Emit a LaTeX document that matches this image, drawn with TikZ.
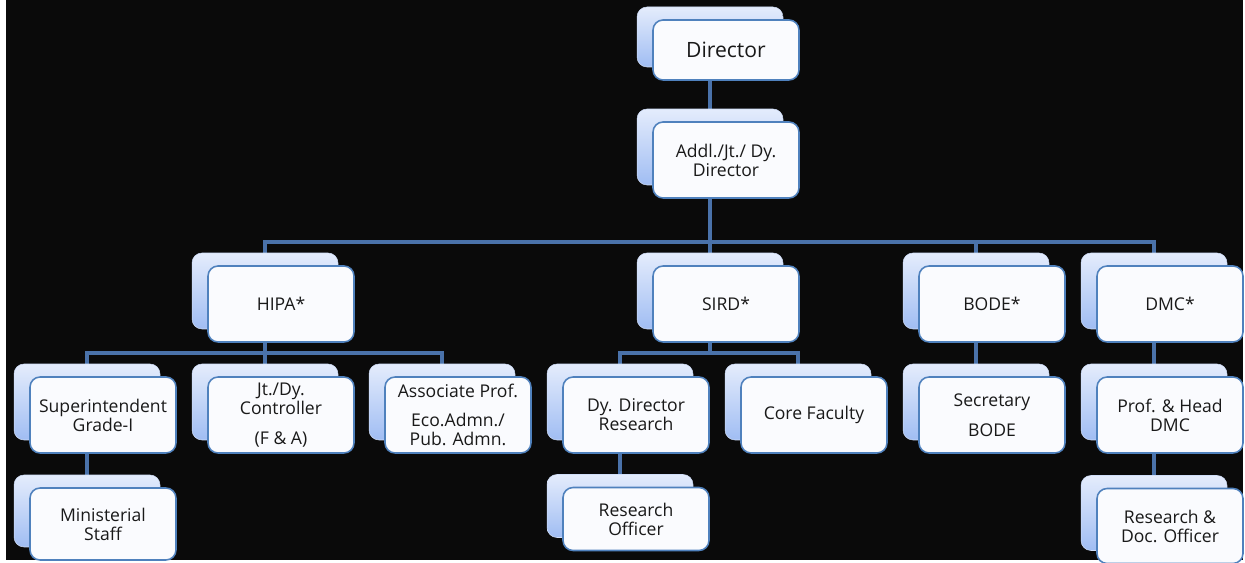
\documentclass[tikz,border=0pt]{standalone}
\usepackage{fontspec}
\setmainfont{Open Sans}
\definecolor{linkblue}{RGB}{74,114,170}
\definecolor{edgeblue}{RGB}{79,129,189}
\definecolor{shadetop}{RGB}{228,236,252}
\definecolor{shadebot}{RGB}{160,189,243}
\definecolor{pageblack}{RGB}{10,10,10}
\definecolor{boxwhite}{RGB}{250,251,254}
\pgfdeclarelayer{backdrop}
\pgfdeclarelayer{lines}
\pgfsetlayers{backdrop,lines,main}
\begin{document}
\begin{tikzpicture}[x=0.02cm,y=-0.02cm,
  back box/.style={rectangle,rounded corners=2mm,minimum width=2.92cm,minimum height=1.52cm,
    top color=shadetop,bottom color=shadebot,draw=shadetop!70!shadebot,line width=0.3pt},
  main box/.style={rectangle,rounded corners=2mm,minimum width=2.92cm,minimum height=1.52cm,
    draw=edgeblue,line width=0.9pt,fill=boxwhite,
    align=center,text=black!90,font=\fontsize{10}{10.8}\selectfont},
  link/.style={draw=linkblue,line width=2.3pt}]

  \useasboundingbox (0,0) rectangle (1245,563);
  \begin{pgfonlayer}{backdrop}
    \fill[pageblack] (6,0) rectangle (1243,560);
  \end{pgfonlayer}

  % top
  \node[back box,minimum height=1.2cm] (dirb) at (710,37) {};
  \node[main box,minimum height=1.2cm,font=\fontsize{12}{14}\selectfont] (dir) at (726,50) {Director};
  \node[back box] (addlb) at (710,147) {};
  \node[main box] (addl) at (726,160) {Addl./Jt./ Dy.\\Director};

  % wings
  \node[back box] (hipab) at (265,291) {};
  \node[main box] (hipa) at (281,304) {HIPA*};
  \node[back box] (sirdb) at (710,291) {};
  \node[main box] (sird) at (726,304) {SIRD*};
  \node[back box] (bodeb) at (976,291) {};
  \node[main box] (bode) at (992,304) {BODE*};
  \node[back box] (dmcb) at (1154,291) {};
  \node[main box] (dmc) at (1170,304) {DMC*};

  % posts
  \node[back box] (superb) at (87,402) {};
  \node[main box] (super) at (103,415) {Superintendent\\Grade-I};
  \node[back box] (ctrlb) at (265,402) {};
  \node[main box] (ctrl) at (281,415) {Jt./Dy.\\Controller\\[6pt](F \& A)};
  \node[back box] (assocb) at (442,402) {};
  \node[main box] (assoc) at (458,415) {Associate Prof.\\[6pt]Eco.Admn./\\Pub. Admn.};
  \node[back box] (dydirb) at (620,402) {};
  \node[main box] (dydir) at (636,415) {Dy. Director\\Research};
  \node[back box] (coreb) at (798,402) {};
  \node[main box] (core) at (814,415) {Core Faculty};
  \node[back box] (secb) at (976,402) {};
  \node[main box] (sec) at (992,415) {Secretary\\[6pt]BODE};
  \node[back box] (profb) at (1154,402) {};
  \node[main box] (prof) at (1170,415) {Prof. \& Head\\DMC};

  % staff
  \node[back box,minimum height=1.44cm] (ministb) at (87,511) {};
  \node[main box,minimum height=1.44cm] (minist) at (103,524) {Ministerial\\Staff};
  \node[back box,minimum height=1.26cm] (resoffb) at (620,506) {};
  \node[main box,minimum height=1.26cm] (resoff) at (636,519) {Research\\Officer};
  \node[back box,minimum height=1.5cm] (resdocb) at (1154,513) {};
  \node[main box,minimum height=1.5cm] (resdoc) at (1170,526) {Research \&\\Doc. Officer};

  \begin{pgfonlayer}{lines}
    \draw[link] (dirb) -- (addlb);
    \foreach \c in {hipab,sirdb,bodeb,dmcb}
      \draw[link] (addlb) |- ([yshift=2.2mm]\c.north) -- (\c);
    \foreach \c in {superb,ctrlb,assocb}
      \draw[link] (hipab) |- ([yshift=2.2mm]\c.north) -- (\c);
    \foreach \c in {dydirb,coreb}
      \draw[link] (sirdb) |- ([yshift=2.2mm]\c.north) -- (\c);
    \draw[link] (bodeb) -- (secb);
    \draw[link] (dmcb) -- (profb);
    \draw[link] (profb) -- (resdocb);
    \draw[link] (superb) -- (ministb);
    \draw[link] (dydirb) -- (resoffb);
  \end{pgfonlayer}
\end{tikzpicture}
\end{document}
